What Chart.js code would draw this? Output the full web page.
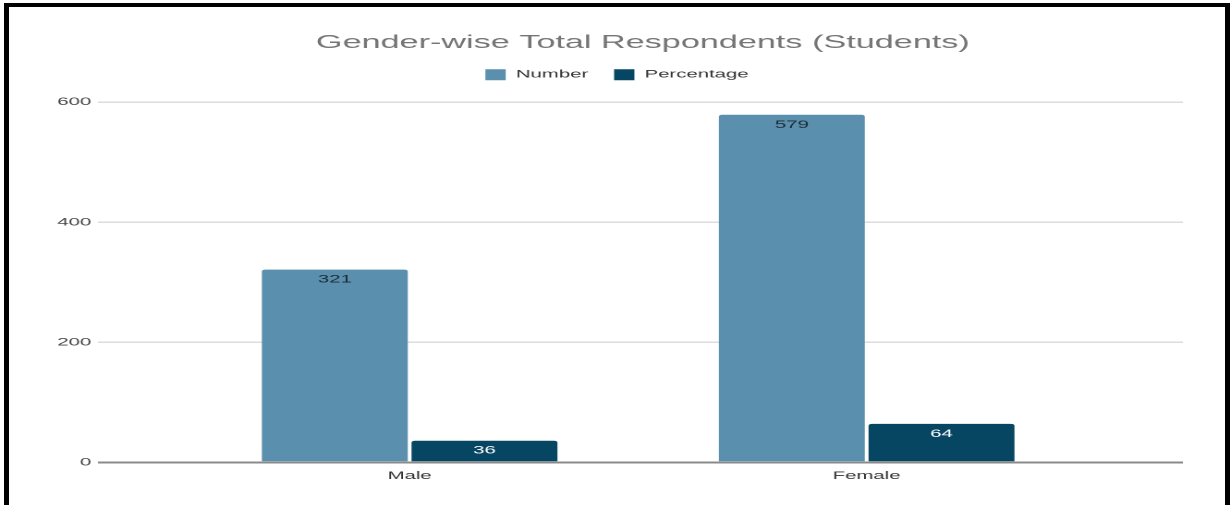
<!DOCTYPE html>
<html>
<head>
<meta charset="utf-8">
<title>Gender-wise Total Respondents (Students)</title>
<script src="https://cdn.jsdelivr.net/npm/chart.js@4.4.1/dist/chart.umd.min.js"></script>
<style>
  html, body { margin: 0; padding: 0; background: #fff; overflow: hidden; }
  body { width: 1231px; height: 505px; position: relative; }
  .frame {
    position: absolute; left: 4px; top: 3px;
    width: 1226px; height: 560px;
    box-sizing: border-box;
    border: 5px solid #000; border-top-width: 4px;
  }
  /* the chart is laid out narrow and stretched sideways */
  #chart {
    position: absolute; left: 0; top: 0;
    width: 666px; height: 505px;
    transform: scaleX(1.8483); transform-origin: 0 0;
  }
</style>
</head>
<body>
<div class="frame"></div>
<canvas id="chart" width="666" height="505"></canvas>
<script>
const categories = ['Male', 'Female'];
const numberValues = [321, 579];
const percentageValues = [36, 64];
const yTicks = [0, 200, 400, 600];

const numberColor = '#5a8fae';
const percentColor = '#074662';

Chart.defaults.font.family = "'Liberation Sans', Arial, sans-serif";

// value printed just inside the top of each bar
const barValues = {
    id: 'barValues',
    afterDatasetsDraw(chart) {
        const ctx = chart.ctx;
        ctx.save();
        ctx.font = "11px 'Liberation Sans', Arial, sans-serif";
        ctx.textAlign = 'center';
        ctx.textBaseline = 'middle';
        chart.data.datasets.forEach((ds, i) => {
            chart.getDatasetMeta(i).data.forEach((bar, j) => {
                ctx.fillStyle = ds.labelColor;
                ctx.fillText(ds.data[j].y, bar.x, bar.y + 10);
            });
        });
        ctx.restore();
    }
};

// title sits a little right of centre
const titleNudge = {
    id: 'titleNudge',
    afterLayout(chart) {
        if (!chart.titleBlock) return;
        chart.titleBlock.left += 14;
        chart.titleBlock.right += 14;
    }
};

// extra room between legend and plot
const legendGap = {
    id: 'legendGap',
    beforeInit(chart) {
        if (!chart.legend) return;
        const fit = chart.legend.fit;
        chart.legend.fit = function () {
            fit.call(this);
            this.height += 12;
        };
    }
};

new Chart(document.getElementById('chart'), {
    type: 'bar',
    data: {
        datasets: [
            {
                label: 'Number',
                data: categories.map((c, i) => ({ x: i, y: numberValues[i] })),
                backgroundColor: numberColor,
                labelColor: '#1c2a34'
            },
            {
                label: 'Percentage',
                data: categories.map((c, i) => ({ x: i, y: percentageValues[i] })),
                backgroundColor: percentColor,
                labelColor: '#ffffff'
            }
        ]
    },
    options: {
        responsive: false,
        devicePixelRatio: 2,
        animation: false,
        layout: {
            padding: { left: 27.6, right: 26, top: 0, bottom: 15.5 }
        },
        datasets: {
            bar: {
                categoryPercentage: 0.655,
                barPercentage: 0.975,
                borderRadius: 2,
                borderSkipped: 'start'
            }
        },
        plugins: {
            title: {
                display: true,
                text: 'Gender-wise Total Respondents (Students)',
                color: '#757575',
                font: { size: 18.5, weight: 'normal' },
                padding: { top: 32, bottom: 1 }
            },
            legend: {
                labels: {
                    boxWidth: 11,
                    boxHeight: 11,
                    padding: 14,
                    color: '#333',
                    font: { size: 11 }
                }
            },
            tooltip: { enabled: false }
        },
        scales: {
            x: {
                type: 'linear',
                offset: false,
                min: -0.683,
                max: 1.692,
                grid: { display: false, drawTicks: false, offset: false },
                border: { display: false },
                afterBuildTicks: (scale) => {
                    scale.ticks = categories.map((_, i) => ({ value: i }));
                },
                ticks: {
                    callback: (v) => categories[v],
                    padding: 7,
                    color: '#333',
                    font: { size: 11 }
                }
            },
            y: {
                min: 0,
                max: 600,
                afterBuildTicks: (scale) => {
                    scale.ticks = yTicks.map(v => ({ value: v }));
                },
                ticks: {
                    padding: 3.4,
                    color: '#444',
                    font: { size: 11 }
                },
                grid: {
                    drawTicks: false,
                    color: (ctx) => ctx.tick.value === 0 ? '#8a8a8a' : '#dcdcdc',
                    lineWidth: (ctx) => ctx.tick.value === 0 ? 2 : 1.5
                },
                border: { display: false }
            }
        }
    },
    plugins: [barValues, titleNudge, legendGap]
});
</script>
</body>
</html>
